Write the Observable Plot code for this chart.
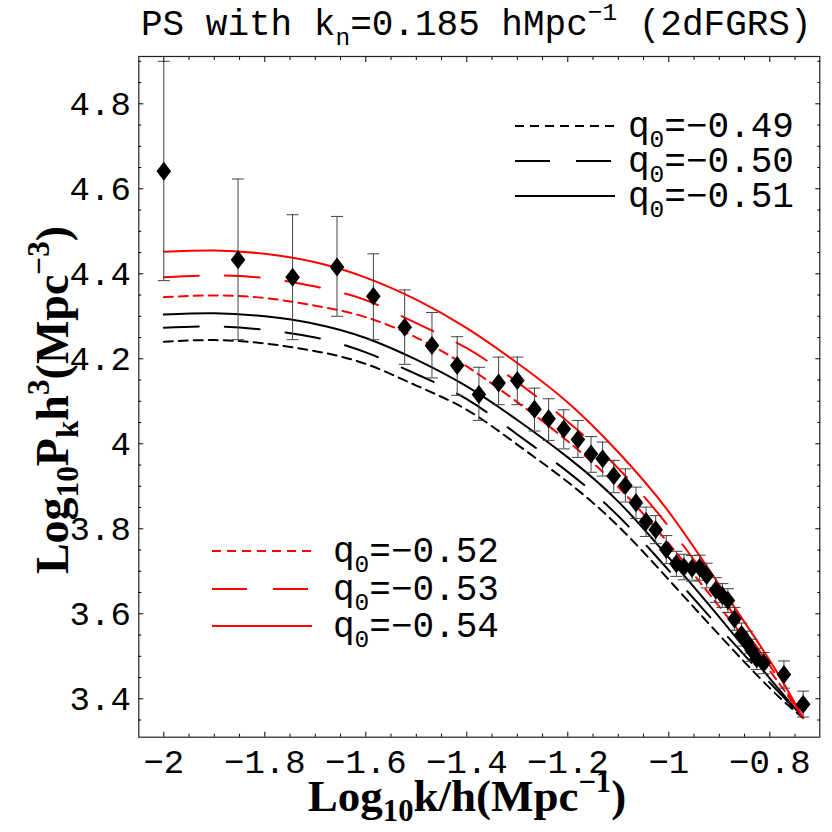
<!DOCTYPE html>
<html><head><meta charset="utf-8">
<script src="https://cdn.jsdelivr.net/npm/d3@7"></script>
<script src="https://cdn.jsdelivr.net/npm/@observablehq/plot@0.6"></script>
<style>body{margin:0;background:#fff} #chart svg{display:block;background:#fff}</style>
</head><body><div id="chart"></div>
<script>
// ---- data ----
const ptX  = [-2.000,-1.853,-1.745,-1.657,-1.585,-1.523,-1.469,-1.419,-1.376,-1.337,-1.300,-1.266,-1.238,-1.208,-1.180,-1.154,-1.131,-1.109,-1.086,-1.065,-1.045,-1.026,-1.005,-0.985,-0.970,-0.954,-0.939,-0.925,-0.907,-0.894,-0.883,-0.870,-0.856,-0.845,-0.836,-0.826,-0.812,-0.772,-0.734];
const ptY  = [4.641,4.433,4.392,4.416,4.347,4.274,4.231,4.184,4.116,4.143,4.149,4.081,4.059,4.035,4.010,3.976,3.965,3.925,3.902,3.861,3.817,3.798,3.751,3.718,3.710,3.707,3.709,3.690,3.656,3.643,3.631,3.588,3.551,3.533,3.514,3.494,3.484,3.457,3.387];
const ptLo = [4.384,4.245,4.245,4.300,4.245,4.187,4.155,4.114,4.055,4.092,4.092,4.030,4.008,3.988,3.968,3.933,3.924,3.885,3.863,3.824,3.782,3.765,3.718,3.688,3.680,3.677,3.679,3.661,3.627,3.615,3.603,3.561,3.524,3.507,3.488,3.469,3.459,3.425,3.357];
const ptHi = [4.900,4.623,4.539,4.535,4.447,4.362,4.309,4.252,4.180,4.204,4.204,4.131,4.106,4.080,4.055,4.017,4.004,3.961,3.941,3.898,3.851,3.831,3.784,3.747,3.740,3.737,3.738,3.719,3.685,3.671,3.659,3.615,3.578,3.559,3.540,3.519,3.509,3.489,3.418];

const curveX = [-2.0,-1.9,-1.8,-1.7,-1.6,-1.5,-1.4,-1.3,-1.2,-1.1,-1.0,-0.9,-0.8,-0.734];
const q049 = [4.240,4.244,4.236,4.218,4.188,4.137,4.080,3.998,3.910,3.806,3.680,3.550,3.425,3.355];
const q050 = [4.273,4.276,4.268,4.250,4.215,4.164,4.105,4.022,3.934,3.830,3.702,3.568,3.438,3.355];
const q051 = [4.304,4.307,4.300,4.282,4.249,4.198,4.135,4.056,3.968,3.864,3.732,3.592,3.448,3.355];
const q052 = [4.345,4.349,4.343,4.325,4.298,4.250,4.182,4.098,4.006,3.898,3.765,3.617,3.466,3.355];
const q053 = [4.392,4.396,4.390,4.370,4.338,4.284,4.225,4.145,4.052,3.942,3.805,3.645,3.478,3.355];
const q054 = [4.452,4.455,4.447,4.427,4.391,4.339,4.272,4.190,4.097,3.980,3.840,3.668,3.490,3.355];

const seriesNames  = ["-0.49","-0.50","-0.51","-0.52","-0.53","-0.54"];
const seriesVals   = [q049,q050,q051,q052,q053,q054];
const seriesColor  = ["black","black","black","#ff0000","#ff0000","#ff0000"];
const seriesDash   = ["9,6","35,26",null,"9,6","35,26",null];

const xTicks = [-2,-1.8,-1.6,-1.4,-1.2,-1,-0.8];
const yTicks = [3.4,3.6,3.8,4,4.2,4.4,4.6,4.8];
const xMinor = [-1.95,-1.9,-1.85,-1.75,-1.7,-1.65,-1.55,-1.5,-1.45,-1.35,-1.3,-1.25,-1.15,-1.1,-1.05,-0.95,-0.9,-0.85,-0.75];
const yMinor = [3.35,3.45,3.5,3.55,3.65,3.7,3.75,3.85,3.9,3.95,4.05,4.1,4.15,4.25,4.3,4.35,4.45,4.5,4.55,4.65,4.7,4.75,4.85,4.9];

// ---- build tables ----
const points = ptX.map((x,i)=>({x, y:ptY[i], lo:ptLo[i], hi:ptHi[i]}));
const curves = seriesNames.map((name,s)=>curveX.map((x,i)=>({x, y:seriesVals[s][i], q:name})));

const diamond = {draw(ctx){ ctx.moveTo(0,-9.5); ctx.lineTo(7.3,0); ctx.lineTo(0,9.5); ctx.lineTo(-7.3,0); ctx.closePath(); }};
const cap = {draw(ctx){ ctx.moveTo(-6,0); ctx.lineTo(6,0); }};
const fmt = d => String(d).replace("-", "\u2212");

const FONT = "Liberation Mono, Courier New, monospace";
const SERIF = "Liberation Serif, Times New Roman, serif";

const marks = [];
curves.forEach((c,s)=>{
  marks.push(Plot.line(c, {x:"x", y:"y", curve:"natural", stroke:seriesColor[s], strokeWidth:2, strokeDasharray:seriesDash[s]}));
});
marks.push(Plot.ruleX(points, {x:"x", y1:"lo", y2:"hi", stroke:"#444", strokeWidth:1}));
marks.push(Plot.dot(points, {x:"x", y:"lo", symbol:cap, stroke:"#444", fill:"none", strokeWidth:1}));
marks.push(Plot.dot(points, {x:"x", y:"hi", symbol:cap, stroke:"#444", fill:"none", strokeWidth:1}));
marks.push(Plot.dot(points, {x:"x", y:"y", symbol:diamond, fill:"black", stroke:"none"}));
marks.push(Plot.frame({stroke:"#222", strokeWidth:1.2}));
marks.push(Plot.axisX({anchor:"bottom", ticks:xTicks, tickSize:-5, tickPadding:17, tickFormat:fmt, label:null, fontSize:34, fontFamily:FONT}));
marks.push(Plot.axisY({anchor:"left", ticks:yTicks, tickSize:-5, tickPadding:13, tickFormat:fmt, label:null, fontSize:34, fontFamily:FONT}));
marks.push(Plot.axisX({anchor:"top", ticks:xTicks, tickSize:-5, tickFormat:()=>"", label:null}));
marks.push(Plot.axisY({anchor:"right", ticks:yTicks, tickSize:-5, tickFormat:()=>"", label:null}));
marks.push(Plot.axisX({anchor:"bottom", ticks:xMinor, tickSize:-3, tickFormat:()=>"", label:null}));
marks.push(Plot.axisX({anchor:"top", ticks:xMinor, tickSize:-3, tickFormat:()=>"", label:null}));
marks.push(Plot.axisY({anchor:"left", ticks:yMinor, tickSize:-3, tickFormat:()=>"", label:null}));
marks.push(Plot.axisY({anchor:"right", ticks:yMinor, tickSize:-3, tickFormat:()=>"", label:null}));

const chart = Plot.plot({
  width:832, height:832,
  marginLeft:138.3, marginRight:12.7, marginTop:56, marginBottom:95.3,
  x:{domain:[-2.0495,-0.701]},
  y:{domain:[3.3096,4.9113]},
  style:{fontFamily:FONT, color:"black", background:"white"},
  marks
});
document.getElementById("chart").appendChild(chart);

// ---- rich text helpers (title, axis labels, legend) ----
const svg = d3.select(chart);
function rich(g, parts, size, subShift = 0.28){
  const t = g.append("text");
  let shift = 0;
  parts.forEach(([s,mode])=>{
    const target = mode==="sub" ? size*subShift : mode==="sup" ? -size*0.42 : 0;
    const ts = t.append("tspan").text(s).attr("dy", target - shift);
    if (mode) ts.attr("font-size", size*0.68);
    shift = target;
  });
  return t;
}
// title
rich(svg.append("g").attr("font-family",FONT).attr("font-size",36).attr("fill","black").attr("text-anchor","start"),
  [["PS with k",""],["n","sub"],["=0.185 hMpc",""],["\u22121","sup"],[" (2dFGRS)",""]], 36)
  .attr("x",141).attr("y",35);
// x label
rich(svg.append("g").attr("font-family",SERIF).attr("font-weight","bold").attr("font-size",45).attr("fill","black").attr("text-anchor","middle"),
  [["Log",""],["10","sub"],["k/h(Mpc",""],["\u22121","sup"],[")",""]], 45, 0.22)
  .attr("x",467).attr("y",811);
// y label
rich(svg.append("g").attr("font-family",SERIF).attr("font-weight","bold").attr("font-size",46).attr("fill","black").attr("text-anchor","middle")
  .attr("transform","translate(68,400) rotate(-90)"),
  [["Log",""],["10","sub"],["P",""],["k","sub"],["h",""],["3","sup"],["(Mpc",""],["\u22123","sup"],[")",""]], 46, 0.22)
  .attr("x",0).attr("y",0);

// legends
function legend(x1, x2, tx, rows, idx){
  const g = svg.append("g");
  idx.forEach((s,i)=>{
    const y = rows[i];
    g.append("line").attr("x1",x1).attr("x2",x2).attr("y1",y).attr("y2",y)
      .attr("stroke",seriesColor[s]).attr("stroke-width",2)
      .attr("stroke-dasharray",seriesDash[s]);
    const tg = g.append("g").attr("font-family",FONT).attr("font-size",36).attr("fill","black").attr("text-anchor","start");
    rich(tg, [["q",""],["0","sub"],["="+seriesNames[s].replace("-","\u2212"),""]], 36).attr("x",tx).attr("y",y+11);
  });
}
legend(515, 615, 628, [126,161,196], [0,1,2]);
legend(212, 312, 333, [551,589,626], [3,4,5]);
</script>
</body></html>
